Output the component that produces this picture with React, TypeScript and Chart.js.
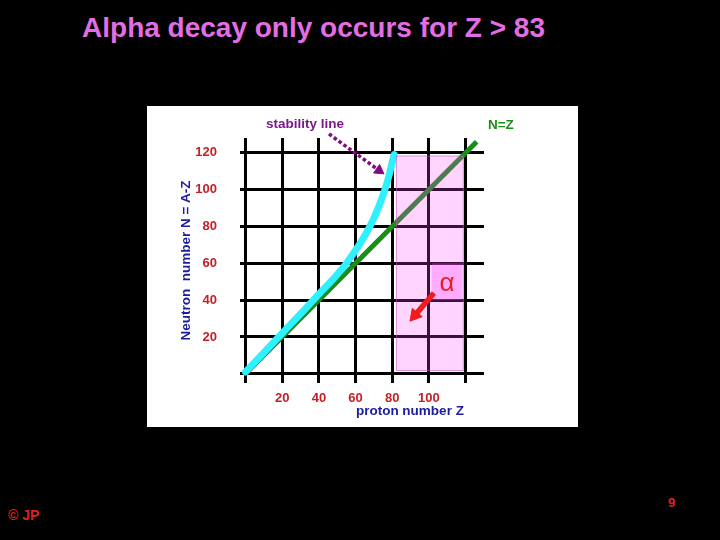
import React, { useEffect, useRef } from "react";
import { Chart, registerables } from "chart.js";

Chart.register(...registerables);

// ---------- data ----------
const gridValues = [0, 20, 40, 60, 80, 100, 120];
const xTickLabels = [20, 40, 60, 80, 100];
const yTickLabels = [20, 40, 60, 80, 100, 120];

const stabilityZ = [0, 20, 37, 55, 67.8, 76, 81];
const stabilityN = [1, 22, 40, 60, 80, 100, 119];

const nzZ = [0, 126];
const nzN = [0, 126];

const alphaArrowZ = [102.7, 92.3];
const alphaArrowN = [43.9, 31.7];

const pointerZ = [45.5, 72.8];
const pointerN = [130.2, 110.4];

const alphaRegionZ = [82, 119];
const alphaRegionN = [1.5, 118.5];
const alphaBoxZ = [101.5, 118];
const alphaBoxN = [40, 60];

const labelTexts = ["stability line", "N=Z", "α", "proton number Z"];
const labelZ = [32.4, 139.2, 109.8, 89.6];
const labelN = [135.6, 135, 48.7];

const FONT = "'Liberation Sans', Arial, Helvetica, sans-serif";

const toPts = (xs: number[], ys: number[]) => xs.map((v, i) => ({ x: v, y: ys[i] }));

const overlayPlugin = {
  id: "alphaOverlay",
  beforeDatasetDraw(chart: any, args: any) {
    if (args.index !== 3) return;
    const { x, y } = chart.scales;
    const ctx = chart.ctx;
    ctx.save();
    const l = x.getPixelForValue(alphaRegionZ[0]);
    const r = x.getPixelForValue(alphaRegionZ[1]);
    const t = y.getPixelForValue(alphaRegionN[1]);
    const b = y.getPixelForValue(alphaRegionN[0]);
    ctx.fillStyle = "rgba(255,70,255,0.23)";
    ctx.fillRect(l, t, r - l, b - t);
    ctx.strokeStyle = "rgba(190,90,190,0.55)";
    ctx.lineWidth = 1;
    ctx.strokeRect(l + 0.5, t + 0.5, r - l - 1, b - t - 1);
    const bl = x.getPixelForValue(alphaBoxZ[0]);
    const br = x.getPixelForValue(alphaBoxZ[1]);
    const bt = y.getPixelForValue(alphaBoxN[1]);
    const bb = y.getPixelForValue(alphaBoxN[0]);
    ctx.fillStyle = "rgba(255,80,255,0.3)";
    ctx.fillRect(bl, bt, br - bl, bb - bt);
    ctx.restore();
  },
  afterDraw(chart: any) {
    const { x, y } = chart.scales;
    const ctx = chart.ctx;
    const area = chart.chartArea;
    ctx.save();
    ctx.textAlign = "center";
    ctx.textBaseline = "middle";
    ctx.font = `bold 13.5px ${FONT}`;
    ctx.fillStyle = "#7a1a8a";
    ctx.fillText(labelTexts[0], x.getPixelForValue(labelZ[0]), y.getPixelForValue(labelN[0]));
    ctx.fillStyle = "#1a8c1a";
    ctx.fillText(labelTexts[1], x.getPixelForValue(labelZ[1]), y.getPixelForValue(labelN[1]));
    ctx.font = `26px ${FONT}`;
    ctx.fillStyle = "#ee1c1c";
    ctx.fillText(labelTexts[2], x.getPixelForValue(labelZ[2]), y.getPixelForValue(labelN[2]));
    ctx.font = `bold 13.5px ${FONT}`;
    ctx.fillStyle = "#1c1c9c";
    ctx.fillText(labelTexts[3], x.getPixelForValue(labelZ[3]), area.bottom + 28);
    ctx.restore();
  },
};

const tickFont = { family: FONT, size: 13, weight: "bold" as const };

export default function App() {
  const ref = useRef<HTMLCanvasElement | null>(null);

  useEffect(() => {
    if (!ref.current) return;
    const chart = new Chart(ref.current, {
      type: "line",
      data: {
        datasets: [
          {
            label: "N=Z",
            data: toPts(nzZ, nzN),
            borderColor: "#1a8c1a",
            borderWidth: 5,
            pointRadius: 0,
            order: 4,
            clip: false as any,
          },
          {
            label: "stability line",
            data: toPts(stabilityZ, stabilityN),
            borderColor: "#2ef0ff",
            borderWidth: 7,
            pointRadius: 0,
            tension: 0.4,
            borderCapStyle: "round",
            order: 3,
          },
          {
            label: "pointer",
            data: toPts(pointerZ, pointerN),
            borderColor: "#800c80",
            borderWidth: 3.5,
            borderDash: [3.5, 2.5],
            pointRadius: [0, 6],
            pointStyle: "triangle",
            pointRotation: 124.9,
            pointBackgroundColor: "#800c80",
            pointBorderColor: "#800c80",
            pointBorderWidth: 1,
            order: 2,
            clip: false as any,
          },
          {
            label: "alpha",
            data: toPts(alphaArrowZ, alphaArrowN),
            borderColor: "#ee1c1c",
            borderWidth: 5.5,
            pointRadius: [0, 7.5],
            pointStyle: "triangle",
            pointRotation: 220,
            pointBackgroundColor: "#ee1c1c",
            pointBorderColor: "#ee1c1c",
            pointBorderWidth: 1,
            order: 1,
          },
        ] as any,
      },
      options: {
        animation: false,
        responsive: false,
        events: [],
        parsing: false as any,
        layout: { padding: { left: 0, right: 94, top: 32, bottom: 0 } },
        plugins: {
          legend: { display: false },
          tooltip: { enabled: false },
        },
        scales: {
          x: {
            type: "linear",
            min: -3,
            max: 130,
            afterBuildTicks: (scale: any) => {
              scale.ticks = gridValues.map((v) => ({ value: v }));
            },
            afterFit: (scale: any) => {
              scale.height = 44;
            },
            border: { display: false },
            grid: { color: "#000", lineWidth: 3, drawTicks: false },
            ticks: {
              color: "#c42028",
              font: tickFont,
              padding: 8,
              maxRotation: 0,
              autoSkip: false,
              callback: (v: any) => (xTickLabels.includes(Number(v)) ? String(v) : ""),
            },
          },
          y: {
            type: "linear",
            min: -5,
            max: 128,
            afterBuildTicks: (scale: any) => {
              scale.ticks = gridValues.map((v) => ({ value: v }));
            },
            afterFit: (scale: any) => {
              scale.width = 93;
            },
            border: { display: false },
            grid: { color: "#000", lineWidth: 3, drawTicks: false },
            ticks: {
              color: "#c42028",
              font: tickFont,
              padding: 23,
              autoSkip: false,
              callback: (v: any) => (yTickLabels.includes(Number(v)) ? String(v) : ""),
            },
            title: {
              display: true,
              text: "Neutron  number N = A-Z",
              color: "#1c1c9c",
              font: { family: FONT, size: 13.5, weight: "bold" },
              padding: { top: 31, bottom: 0 },
            },
          },
        },
      } as any,
      plugins: [overlayPlugin],
    });
    return () => chart.destroy();
  }, []);

  return (
    <div
      style={{
        position: "fixed",
        left: 0,
        top: 0,
        width: 720,
        height: 540,
        background: "#000",
        overflow: "hidden",
        fontFamily: FONT,
      }}
    >
      <div
        style={{
          position: "absolute",
          left: 0,
          width: 627,
          top: 9,
          textAlign: "center",
          color: "#e36ee3",
          fontWeight: "bold",
          fontSize: 28,
          lineHeight: "38px",
          whiteSpace: "nowrap",
        }}
      >
        Alpha decay only occurs for Z &gt; 83
      </div>
      <div
        style={{
          position: "absolute",
          left: 147,
          top: 106,
          width: 431,
          height: 321,
          background: "#fff",
        }}
      >
        <canvas ref={ref} width={431} height={321} style={{ display: "block" }} />
      </div>
      <div
        style={{
          position: "absolute",
          left: 8,
          top: 506,
          color: "#dd2020",
          fontWeight: "bold",
          fontSize: 14,
          lineHeight: "18px",
        }}
      >
        © JP
      </div>
      <div
        style={{
          position: "absolute",
          left: 668,
          top: 494,
          color: "#dd2020",
          fontWeight: "bold",
          fontSize: 13,
          lineHeight: "18px",
        }}
      >
        9
      </div>
    </div>
  );
}
